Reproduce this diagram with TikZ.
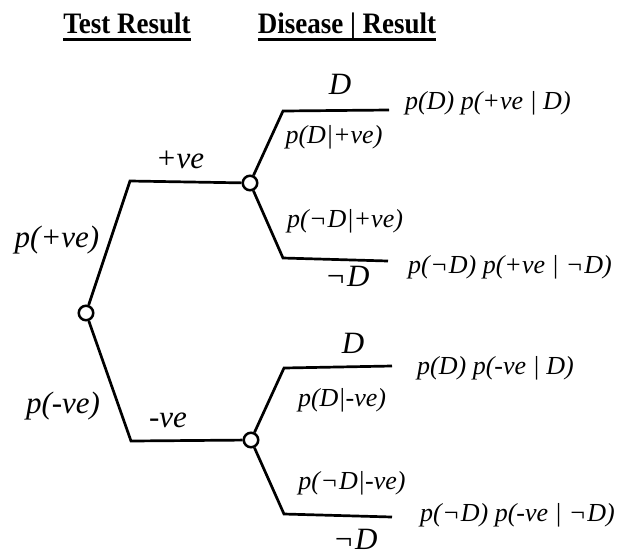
\documentclass[tikz,border=0pt]{standalone}
\usepackage{fontspec}
\usepackage{graphicx}
\setmainfont{Liberation Serif}
\newcommand{\notsign}{\kern0.5pt¬\kern1pt}
\newcommand{\headtext}[1]{\scalebox{1}[1.1]{#1}}
\begin{document}
\begin{tikzpicture}[x=1pt,y=-1pt,
  branch/.style={line width=2.7pt, line join=miter},
  chance/.style={circle, draw, line width=2.5pt, fill=white, minimum size=14.5pt, inner sep=0pt},
  head/.style={font=\fontsize{27}{30}\selectfont\bfseries, anchor=base, inner sep=0pt},
  biglab/.style={font=\fontsize{31}{33}\selectfont\itshape, inner sep=0pt},
  midlab/.style={font=\fontsize{26}{28}\selectfont\itshape, inner sep=0pt},
  reslab/.style={font=\fontsize{26}{28}\selectfont\itshape, inner sep=0pt, anchor=west}]
\useasboundingbox (0,0) rectangle (628,555);

% headings
\node[head] (h1) at (127,33) {\headtext{Test Result}};
\node[head] (h2) at (347,33) {\headtext{Disease | Result}};
\draw[line width=3.3pt] ([yshift=-6.5pt]h1.base west) -- ([yshift=-6.5pt]h1.base east);
\draw[line width=3.3pt] ([yshift=-6.5pt]h2.base west) -- ([yshift=-6.5pt]h2.base east);

% chance nodes
\node[chance] (root) at (86,313) {};
\node[chance] (up) at (250,183) {};
\node[chance] (lo) at (251,440) {};

% bends and ends
\coordinate (b1) at (130,181);
\coordinate (b2) at (131,441);
\coordinate (u1) at (283,111);
\coordinate (u1e) at (389,110);
\coordinate (u2) at (283,258);
\coordinate (u2e) at (388,261);
\coordinate (l1) at (284,368);
\coordinate (l1e) at (392,366);
\coordinate (l2) at (284,514);
\coordinate (l2e) at (392,517);

\draw[branch] (root) -- (b1) -- (up);
\draw[branch] (root) -- (b2) -- (lo);
\draw[branch] (up) -- (u1) -- (u1e);
\draw[branch] (up) -- (u2) -- (u2e);
\draw[branch] (lo) -- (l1) -- (l1e);
\draw[branch] (lo) -- (l2) -- (l2e);

% first stage labels
\node[biglab] (tpos) at (180,160) {+ve};
\node[biglab] (tneg) at (168,420) {-ve};
\node[biglab] (ppos) at (57,240) {p(+ve)};
\node[biglab] (pneg) at (63,406) {p(-ve)};

% second stage labels
\node[biglab] (d1) at (340,84) {D};
\node[biglab] (nd1) at (347,276) {\notsign D};
\node[biglab] (d2) at (353,343) {D};
\node[biglab] (nd2) at (355,539) {\notsign D};

\node[midlab] (pd1) at (334,137) {p(D|+ve)};
\node[midlab] (pnd1) at (345,221) {p(\notsign D|+ve)};
\node[midlab] (pd2) at (342,400) {p(D|-ve)};
\node[midlab] (pnd2) at (352,483) {p(\notsign D|-ve)};

% joint probabilities
\node[reslab] (r1) at (405,103) {p(D) p(+ve | D)};
\node[reslab] (r2) at (408,267) {p(\notsign D) p(+ve | \notsign D)};
\node[reslab] (r3) at (417,368) {p(D) p(-ve | D)};
\node[reslab] (r4) at (420,515) {p(\notsign D) p(-ve | \notsign D)};
\end{tikzpicture}
\end{document}
